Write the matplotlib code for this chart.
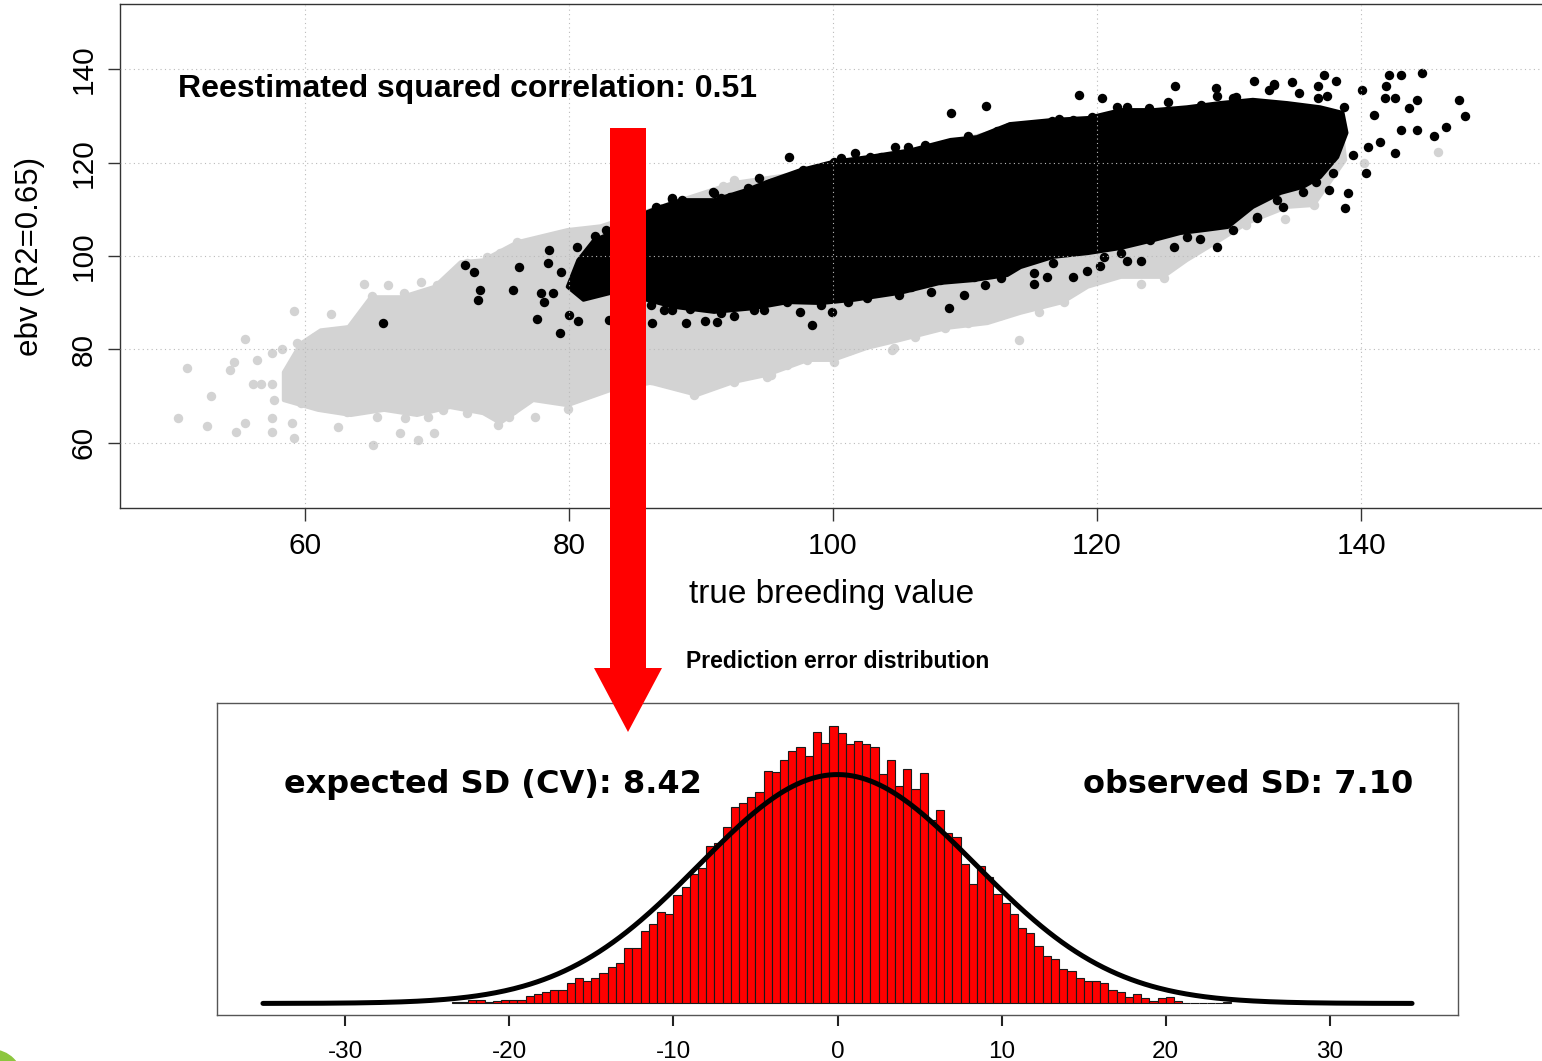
import matplotlib
matplotlib.use("Agg")
import matplotlib.pyplot as plt
import numpy as np
from matplotlib.patches import Polygon, FancyArrow, Ellipse

plt.rcParams['font.family'] = ['Liberation Sans', 'DejaVu Sans']
plt.rcParams['axes.unicode_minus'] = False

# ---- scatter: true breeding value vs ebv ----
# dense core of the light grey cloud (outline of outermost dots)
grey_cloud_x = [58.4, 59.7, 61.2, 63.3, 65.0, 67.3, 69.8, 71.8, 73.5, 76.1, 79.9, 82.4, 86.2,
                92.5, 99.1, 105.1, 112.7, 120.2, 127.8, 135.4, 138.4, 138.8, 136.4, 134.4,
                131.4, 129.3, 126.8, 125.0, 121.8, 119.3, 117.4, 114.2, 111.7, 108.7, 105.1,
                102.6, 100.0, 98.1, 95.0, 92.5, 89.7, 86.2, 83.2, 79.9, 77.3, 74.8, 73.5,
                71.0, 68.5, 66.0, 63.5, 61.0, 58.4]
grey_cloud_y = [75.1, 81.3, 84.1, 84.8, 91.2, 91.2, 93.4, 98.7, 99.1, 103.0, 105.6, 106.4, 109.9,
                115.7, 118.4, 121.7, 127.0, 129.2, 131.7, 132.2, 130.2, 120.6, 110.9, 110.5,
                107.1, 103.4, 99.1, 95.5, 95.5, 93.4, 90.1, 87.8, 85.6, 84.6, 82.0,
                80.3, 77.7, 77.7, 74.5, 73.0, 70.2, 72.8, 71.3, 68.0, 69.1, 64.2, 66.3,
                67.6, 65.9, 67.0, 65.9, 67.0, 69.1]

# single grey dots: stragglers first, then dots along the cloud rim
grey_x = [50.4, 51.1, 52.6, 52.9, 54.6, 54.3, 54.8, 55.5, 55.5, 56.4, 56.1, 56.7, 57.5, 57.5,
          57.5, 57.5, 58.3, 59.2, 59.0, 59.2, 57.7, 58.7, 65.2, 67.2, 68.6, 69.8, 62.5, 64.5,
          66.3, 68.8, 62.0, 74.6, 75.5, 89.5, 95.0, 98.0, 104.5, 106.2, 108.5, 114.1, 115.6,
          117.5, 114.7, 123.3, 125.1, 134.2, 136.4, 145.8, 140.2, 131.3, 92.5, 99.1, 91.7,
          59.7, 62.0, 63.2, 64.7, 65.5, 67.6, 69.3, 70.5, 72.3, 73.8, 75.3, 59.4, 60.8, 63.2,
          64.5, 65.1, 67.5, 70.0, 71.1, 72.3, 73.8, 74.8, 76.1, 75.8, 77.4, 79.9, 81.9, 83.7,
          86.2, 88.2, 92.5, 95.3, 96.5, 100.1, 101.3, 104.6, 110.2, 112.7]
grey_y = [65.3, 75.9, 63.6, 70.0, 77.3, 75.6, 62.2, 64.3, 82.3, 77.7, 72.5, 72.5, 72.5, 65.3,
          62.2, 79.3, 80.0, 88.3, 64.3, 61.0, 69.1, 72.0, 59.5, 62.0, 60.5, 62.0, 63.4, 94.1,
          93.8, 94.4, 87.6, 63.8, 65.5, 70.2, 74.1, 77.7, 79.8, 82.7, 84.5, 82.0, 88.1,
          90.2, 92.1, 94.1, 95.3, 107.9, 110.9, 122.2, 119.9, 106.6, 116.3, 118.1, 114.9,
          68.4, 69.1, 66.6, 69.1, 65.5, 65.2, 65.5, 67.0, 66.3, 67.0, 65.9, 81.3, 82.7, 84.1,
          87.7, 91.4, 92.0, 93.8, 95.6, 98.4, 99.8, 100.6, 103.1, 67.0, 65.5, 67.3, 72.0, 70.9,
          73.4, 73.8, 73.0, 74.5, 76.6, 77.3, 79.8, 80.2, 85.6, 87.3]

# dense core of the black cloud
black_cloud_x = [79.9, 80.7, 81.9, 83.2, 85.9, 86.7, 88.5, 91.0, 93.5, 95.0, 97.5, 100.0, 102.6,
                 105.9, 108.9, 110.9, 113.4, 116.7, 119.3, 121.8, 124.3, 126.8, 129.3, 131.8,
                 134.4, 136.9, 138.6, 138.9, 138.2, 136.9, 135.6, 133.9, 131.8, 129.9, 128.3,
                 126.3, 124.3, 121.8, 119.3, 116.7, 114.2, 113.2, 110.6, 108.1, 105.1, 101.6,
                 99.1, 96.6, 94.0, 91.0, 87.9, 85.9, 83.2, 81.1]
black_cloud_y = [93.4, 99.1, 103.4, 104.9, 109.4, 110.3, 112.0, 112.0, 114.2, 115.9, 118.4, 120.2,
                 121.2, 122.7, 124.9, 125.5, 128.3, 129.2, 129.6, 131.3, 131.3, 131.9, 132.8,
                 133.5, 132.8, 131.9, 130.7, 126.4, 121.2, 116.9, 114.8, 113.5, 110.5, 106.2,
                 105.6, 104.9, 103.4, 101.7, 100.6, 99.8, 97.6, 95.9, 94.8, 94.2, 92.1, 90.6,
                 89.9, 90.1, 88.8, 88.0, 89.1, 90.6, 92.1, 90.6]

# single black dots: stragglers, then dots along the upper and lower rim
black_x = [65.95, 72.1, 72.8, 73.3, 73.1, 75.8, 76.2, 77.6, 77.9, 78.1, 78.5, 78.4, 78.8, 79.3,
           79.4, 80.0, 80.6, 80.7, 82.0, 82.8, 83.0, 86.3, 88.9, 90.3, 91.2, 92.5, 98.4, 99.9,
           96.7, 108.9, 111.6, 87.8, 90.9, 108.8, 109.9, 111.5, 118.6, 120.4, 125.9, 129.0,
           130.5, 131.9, 133.4, 134.8, 136.7, 137.2, 138.1, 138.7, 140.1, 141.0, 141.9, 142.1,
           143.0, 144.6, 141.8, 142.6, 143.6, 144.2, 147.4, 147.9, 146.4, 145.5, 144.2, 143.0,
           142.6, 141.4, 140.4, 138.8, 139.0, 137.6, 134.1, 132.1, 129.1, 127.8, 123.3, 122.3,
           120.2, 119.2, 118.2, 116.2, 115.2, 140.5, 139.4,
           86.6, 87.0, 87.8, 88.6, 91.0, 91.5, 92.2, 93.6, 94.4, 95.3, 96.3, 97.0, 97.7, 100.1,
           100.6, 101.7, 102.8, 103.6, 104.7, 105.7, 107.0, 109.3, 110.2, 111.2, 112.4, 113.3,
           115.5, 116.6, 117.1, 118.2, 119.6, 121.5, 122.3, 123.9, 125.4, 127.9, 129.1, 130.3,
           133.0, 133.4, 135.3, 136.7, 137.4,
           86.2, 87.2, 87.8, 89.2, 90.2, 91.5, 94.0, 94.8, 96.5, 97.5, 99.1, 101.1, 102.6,
           105.0, 105.9, 107.4, 108.1, 110.7, 112.7, 115.2, 116.7, 120.5, 121.8, 124.0, 125.8,
           126.8, 130.3, 132.1, 133.6, 135.6, 136.6, 137.9]
black_y = [85.7, 98.1, 96.6, 92.7, 90.6, 92.7, 97.7, 86.6, 92.1, 90.2, 101.3, 98.4, 92.0, 83.6,
           96.6, 87.3, 102.0, 86.1, 104.3, 105.6, 86.3, 85.6, 85.6, 86.1, 85.8, 87.2, 85.2, 87.9,
           121.3, 130.6, 132.2, 112.5, 113.8, 88.8, 91.6, 93.8, 134.5, 133.9, 136.5, 136.0,
           134.0, 137.5, 136.8, 137.3, 136.5, 138.8, 137.5, 132.0, 135.6, 130.2, 136.5, 138.8,
           138.7, 139.3, 133.8, 133.9, 131.7, 133.4, 133.4, 130.1, 127.6, 125.7, 127.0, 127.0,
           122.0, 124.5, 117.7, 110.2, 113.6, 114.2, 110.6, 108.1, 102.0, 103.7, 98.9, 98.9,
           97.9, 96.8, 95.6, 95.6, 94.1, 123.4, 121.7,
           110.6, 110.0, 112.2, 112.0, 113.6, 112.4, 112.7, 114.5, 116.7, 115.7, 115.7, 117.0,
           118.5, 120.1, 120.9, 122.0, 121.3, 121.3, 123.4, 123.4, 123.7, 124.2, 125.7, 124.9,
           126.7, 127.7, 127.9, 129.0, 129.4, 129.2, 129.7, 132.0, 131.9, 131.7, 133.1, 132.4,
           134.2, 133.9, 135.6, 136.7, 134.9, 133.8, 134.2,
           89.5, 88.4, 88.4, 88.6, 89.5, 87.7, 88.4, 88.4, 90.2, 88.1, 89.5, 90.2, 90.9,
           91.6, 93.4, 92.3, 94.8, 95.6, 95.2, 96.3, 98.4, 99.8, 100.6, 103.4, 102.0,
           104.0, 105.6, 108.4, 112.0, 113.8, 115.9, 117.7]

# ---- histogram of prediction errors (density, bin width 0.5) ----
bin_left = np.arange(-23.5, 24.0, 0.5)
density = [0.0004, 0.0002, 0.0007, 0.0007, 0.0004, 0.0006, 0.0007, 0.0008, 0.0008, 0.0015,
           0.0020, 0.0023, 0.0027, 0.0027, 0.0042, 0.0053, 0.0046, 0.0053, 0.0063, 0.0075,
           0.0084, 0.0115, 0.0115, 0.0149, 0.0165, 0.0189, 0.0186, 0.0225, 0.0241, 0.0268,
           0.0280, 0.0325, 0.0332, 0.0365, 0.0406, 0.0414, 0.0427, 0.0437, 0.0482, 0.0480,
           0.0504, 0.0523, 0.0530, 0.0513, 0.0561, 0.0539, 0.0575, 0.0560, 0.0537, 0.0544,
           0.0537, 0.0530, 0.0475, 0.0504, 0.0451, 0.0485, 0.0444, 0.0476, 0.0379, 0.0401,
           0.0353, 0.0344, 0.0288, 0.0248, 0.0285, 0.0261, 0.0226, 0.0208, 0.0186, 0.0157,
           0.0146, 0.0119, 0.0099, 0.0092, 0.0072, 0.0068, 0.0052, 0.0046, 0.0047, 0.0042,
           0.0028, 0.0023, 0.0014, 0.0020, 0.0012, 0.0006, 0.0012, 0.0014, 0.0006, 0.0001,
           0.0001, 0.0001, 0.0001, 0.0000, 0.0002]
expected_sd = 8.42
observed_sd = 7.10
r2_reest = 0.51

fig = plt.figure(figsize=(15.42, 10.61), dpi=100)

# top panel
ax = fig.add_axes([0.0778, 0.5212, 0.9248, 0.4750])
ax.set_xlim(46, 154)
ax.set_ylim(46, 154)
ax.set_axisbelow(False)
dot = 6.8
ax.add_patch(Polygon(np.column_stack([grey_cloud_x, grey_cloud_y]), closed=True,
                     facecolor='#d3d3d3', edgecolor='#d3d3d3', lw=dot * 0.4,
                     joinstyle='round', zorder=1))
ax.scatter(grey_x, grey_y, s=dot**2, c='#d3d3d3', linewidths=0, zorder=1)
ax.add_patch(Polygon(np.column_stack([black_cloud_x, black_cloud_y]), closed=True,
                     facecolor='black', edgecolor='black', lw=dot * 0.4,
                     joinstyle='round', zorder=1.1))
ax.scatter(black_x, black_y, s=dot**2, c='black', linewidths=0, zorder=1.1)

ax.set_xticks([60, 80, 100, 120, 140])
ax.set_yticks([60, 80, 100, 120, 140])
ax.grid(True, color='#bbbbbb', lw=0.8, linestyle=(0, (1, 3)))
ax.tick_params(axis='x', labelsize=21.5, length=9, width=1, color='#333333', pad=8)
ax.tick_params(axis='y', labelsize=21.5, length=9, width=1, color='#333333', pad=7)
for lab in ax.get_yticklabels():
    lab.set_rotation(90)
    lab.set_va('center')
for sp in ax.spines.values():
    sp.set_color('#333333')
    sp.set_linewidth(1)
ax.text(50.4, 134.1, f'Reestimated squared correlation: {r2_reest:.2f}',
        fontsize=23, fontweight='bold', va='baseline', ha='left')
fig.text(30 / 1542, 1 - 256 / 1061, 'ebv (R2=0.65)', rotation=90, fontsize=22.5,
         ha='center', va='center')
fig.text(832 / 1542, 1 - 595 / 1061, 'true breeding value', fontsize=24,
         ha='center', va='center')

# bottom panel
ax2 = fig.add_axes([217 / 1542, 1 - 1015 / 1061, (1458 - 217) / 1542, 312 / 1061])
ax2.bar(bin_left, density, width=0.5, align='edge', color='red',
        edgecolor='#1a1a1a', linewidth=0.8, zorder=1)
xs = np.linspace(-35, 35, 500)
ax2.plot(xs, np.exp(-0.5 * (xs / expected_sd) ** 2) / (expected_sd * np.sqrt(2 * np.pi)),
         color='black', lw=3.6, solid_capstyle='round', zorder=3)
top = 0.0598
ax2.set_xlim(-37.8, 37.8)
ax2.set_ylim(-0.04 * top, 1.04 * top)
ax2.set_yticks([])
ax2.set_xticks([-30, -20, -10, 0, 10, 20, 30])
ax2.tick_params(axis='x', labelsize=17.5, length=8, width=1.5, color='#222222', pad=11)
for sp in ax2.spines.values():
    sp.set_color('#555555')
    sp.set_linewidth(1)
ax2.text(-33.7, 0.0435, f'expected SD (CV): {expected_sd:.2f}', family=['DejaVu Sans'],
         fontsize=23, fontweight='bold', ha='left', va='baseline')
ax2.text(35.1, 0.0435, f'observed SD: {observed_sd:.2f}', family=['DejaVu Sans'],
         fontsize=23, fontweight='bold', ha='right', va='baseline')
ax2.text(0.5, 1.112, 'Prediction error distribution', transform=ax2.transAxes,
         fontsize=16.5, fontweight='bold', ha='center', va='baseline')

# red arrow from the scatter down to the histogram
fig.add_artist(FancyArrow(628 / 1542, 1 - 128 / 1061, 0, -(732 - 128) / 1061,
                          width=36 / 1542, head_width=68 / 1542, head_length=64 / 1061,
                          length_includes_head=True, color='red', lw=0,
                          transform=fig.transFigure, zorder=10))

# green slide ornament in the bottom-left corner
fig.add_artist(Ellipse((-8 / 1542, -19 / 1061), 60 / 1542, 60 / 1061, color='#8cc63e',
                       transform=fig.transFigure, zorder=10))

fig.savefig('out.png', dpi=100)
